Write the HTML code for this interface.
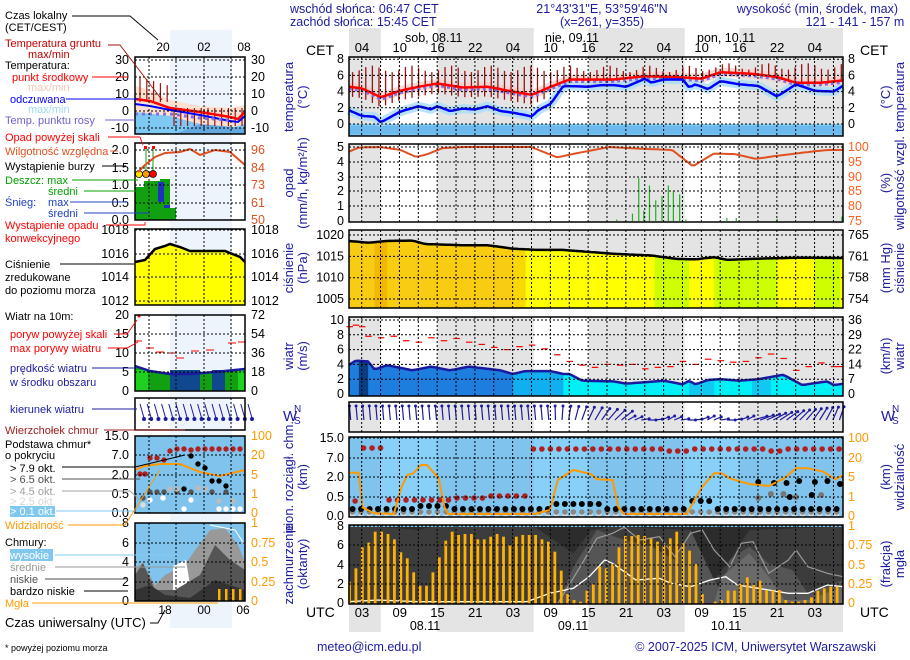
<!DOCTYPE html>
<html><head><meta charset="utf-8">
<style>
html,body{margin:0;padding:0;background:#fff;width:910px;height:660px;overflow:hidden}
svg{display:block;font-family:"Liberation Sans",sans-serif;font-size:12.5px}
.b{fill:#1c1ca0}
</style></head><body>
<svg id="s" width="910" height="660" xmlns="http://www.w3.org/2000/svg">
<g id="g"></g>
<g id="txt">
<text x="290" y="13" class="b">wschód słońca: 06:47 CET</text>
<text x="290" y="26" class="b">zachód słońca: 15:45 CET</text>
<text x="602" y="13" class="b" text-anchor="middle">21°43'31"E, 53°59'46"N</text>
<text x="602" y="26" class="b" text-anchor="middle">(x=261,  y=355)</text>
<text x="898" y="13" class="b" text-anchor="end">wysokość (min, środek, max)</text>
<text x="855" y="26" class="b" text-anchor="middle">121 - 141 - 157 m</text>
<text x="405" y="42">sob, 08.11</text>
<text x="545" y="42">nie, 09.11</text>
<text x="697" y="42">pon, 10.11</text>
<text x="306" y="55" style="font-size:14px">CET</text>
<text x="860" y="55" style="font-size:14px">CET</text>
<text x="306" y="617" style="font-size:14px">UTC</text>
<text x="860" y="617" style="font-size:14px">UTC</text>
<text x="425" y="630" text-anchor="middle">08.11</text>
<text x="573" y="630" text-anchor="middle">09.11</text>
<text x="726" y="630" text-anchor="middle">10.11</text>
<text x="317" y="651" class="b">meteo@icm.edu.pl</text>
<text x="876" y="651" class="b" text-anchor="end">© 2007-2025 ICM, Uniwersytet Warszawski</text>
<text x="5" y="651" style="font-size:9px">* powyżej poziomu morza</text>

<g class="b" style="font-size:13px">
<text transform="translate(293,97) rotate(-90)" text-anchor="middle">temperatura</text>
<text transform="translate(307,97) rotate(-90)" text-anchor="middle">(°C)</text>
<text transform="translate(293,183) rotate(-90)" text-anchor="middle">opad</text>
<text transform="translate(307,183) rotate(-90)" text-anchor="middle">(mm/h, kg/m²/h)</text>
<text transform="translate(293,268) rotate(-90)" text-anchor="middle">ciśnienie</text>
<text transform="translate(307,268) rotate(-90)" text-anchor="middle">(hPa)</text>
<text transform="translate(293,356) rotate(-90)" text-anchor="middle">wiatr</text>
<text transform="translate(307,356) rotate(-90)" text-anchor="middle">(m/s)</text>
<text transform="translate(293,477) rotate(-90)" text-anchor="middle">pion. rozciągł. chm.</text>
<text transform="translate(307,477) rotate(-90)" text-anchor="middle">(km)</text>
<text transform="translate(293,564) rotate(-90)" text-anchor="middle">zachmurzenie</text>
<text transform="translate(307,564) rotate(-90)" text-anchor="middle">(oktanty)</text>
<text transform="translate(890,97) rotate(-90)" text-anchor="middle">(°C)</text>
<text transform="translate(904,97) rotate(-90)" text-anchor="middle">temperatura</text>
<text transform="translate(890,183) rotate(-90)" text-anchor="middle">(%)</text>
<text transform="translate(904,183) rotate(-90)" text-anchor="middle">wilgotność wzgl.</text>
<text transform="translate(890,268) rotate(-90)" text-anchor="middle">(mm Hg)</text>
<text transform="translate(904,268) rotate(-90)" text-anchor="middle">ciśnienie</text>
<text transform="translate(890,356) rotate(-90)" text-anchor="middle">(km/h)</text>
<text transform="translate(904,356) rotate(-90)" text-anchor="middle">wiatr</text>
<text transform="translate(890,477) rotate(-90)" text-anchor="middle">(km)</text>
<text transform="translate(904,477) rotate(-90)" text-anchor="middle">widzialność</text>
<text transform="translate(890,564) rotate(-90)" text-anchor="middle">(frakcja)</text>
<text transform="translate(904,564) rotate(-90)" text-anchor="middle">mgła</text>
</g>
<text x="283" y="421" class="b" style="font-size:15px">W</text><text x="294" y="412" class="b" style="font-size:10px">N</text><text x="294" y="424" class="b" style="font-size:10px">S</text>
<text x="881" y="421" class="b" style="font-size:15px">W</text><text x="892" y="412" class="b" style="font-size:10px">N</text><text x="892" y="424" class="b" style="font-size:10px">S</text>

<g style="font-size:11px">
<text x="5" y="19">Czas lokalny</text><text x="5" y="31">(CET/CEST)</text>
<text x="5" y="47" fill="#c00000">Temperatura gruntu</text><text x="28" y="58" fill="#c00000">max/min</text>
<text x="5" y="69">Temperatura:</text>
<text x="12" y="81" fill="#ff0000">punkt środkowy</text>
<text x="28" y="91" fill="#f0c8b8">max/min</text>
<text x="10" y="103" fill="#0000ff">odczuwana</text>
<text x="28" y="113" fill="#a0d8f0">max/min</text>
<text x="5" y="124" fill="#7060d0">Temp. punktu rosy</text>
<text x="5" y="141" fill="#ff0000">Opad powyżej skali</text>
<text x="5" y="155" fill="#e05020">Wilgotność względna</text>
<text x="5" y="170">Wystąpienie burzy</text>
<text x="5" y="184" fill="#00a000">Deszcz: max</text>
<text x="48" y="195" fill="#00a000">średni</text>
<text x="5" y="206" fill="#2040c0">Śnieg:</text><text x="48" y="206" fill="#2040c0">max</text>
<text x="48" y="217" fill="#2040c0">średni</text>
<text x="5" y="229" fill="#ff0000">Wystąpienie opadu</text>
<text x="5" y="242" fill="#ff0000">konwekcyjnego</text>
<text x="5" y="268">Ciśnienie</text><text x="5" y="281">zredukowane</text><text x="5" y="294">do poziomu morza</text>
<text x="5" y="320">Wiatr na 10m:</text>
<text x="10" y="338" fill="#ff0000">poryw powyżej skali</text>
<text x="10" y="352" fill="#ff0000">max porywy wiatru</text>
<text x="10" y="372" fill="#1c1ca0">prędkość wiatru</text>
<text x="10" y="386" fill="#1c1ca0">w środku obszaru</text>
<text x="10" y="413" fill="#1c1ca0">kierunek wiatru</text>
<text x="5" y="434" fill="#a02020">Wierzchołek chmur</text>
<text x="5" y="448">Podstawa chmur*</text><text x="5" y="459">o pokryciu</text>
<text x="10" y="472">&gt; 7.9 okt.</text>
<text x="10" y="483" fill="#505050">&gt; 6.5 okt.</text>
<text x="10" y="495" fill="#a0a0a0">&gt; 4.5 okt.</text>
<text x="10" y="505" fill="#d8d8d8">&gt; 2.5 okt.</text>
<rect x="10" y="506" width="45" height="11" fill="#80c8f0"/>
<text x="10" y="515" fill="#fff">&gt; 0.1 okt.</text>
<text x="5" y="529" fill="#ff9900">Widzialność</text>
<text x="5" y="546">Chmury:</text>
<rect x="10" y="549" width="43" height="12" fill="#80c8f0"/>
<text x="10" y="559" fill="#fff">wysokie</text>
<text x="10" y="571" fill="#999">średnie</text>
<text x="10" y="583" fill="#505050">niskie</text>
<text x="10" y="595">bardzo niskie</text>
<text x="5" y="607" fill="#ffa000">Mgła</text>
<text x="5" y="627" style="font-size:13px">Czas uniwersalny (UTC)</text>
</g>
<g style="font-size:12px">
<text x="163" y="51" text-anchor="middle">20</text><text x="204" y="51" text-anchor="middle">02</text><text x="244" y="51" text-anchor="middle">08</text>
<text x="165" y="614" text-anchor="middle">18</text><text x="204" y="614" text-anchor="middle">00</text><text x="243" y="614" text-anchor="middle">06</text>
</g>
</g>
</svg>
<script>
const NS='http://www.w3.org/2000/svg';
const G=document.getElementById('g');
function el(n,a,p){const e=document.createElementNS(NS,n);for(const k in a)e.setAttribute(k,a[k]);(p||G).appendChild(e);return e;}
function tx(x,y,s,a,c,fs){const e=el('text',{x:x,y:y,'text-anchor':a||'start',fill:c||'#000'});e.textContent=s;if(fs)e.style.fontSize=fs+'px';return e;}
const X=t=>362+6.29*t, L=349, R=843;
const days=[[3,12],[27.3,36],[51.3,60]];
const P=[[57,136],[144,222],[230,308],[317,396],[402,432],[437,517],[525,604]];
function pl(pts,st){return el('polyline',Object.assign({points:pts.map(p=>p[0].toFixed(1)+','+p[1].toFixed(1)).join(' '),fill:'none'},st));}
function area(pts,yb,fill){const a=pts.map(p=>p[0].toFixed(1)+','+p[1].toFixed(1));a.push(pts[pts.length-1][0]+','+yb);a.push(pts[0][0]+','+yb);return el('polygon',{points:a.join(' '),fill:fill});}
function interp(d,t){if(t<=d[0][0])return d[0][1];for(let i=1;i<d.length;i++){if(t<=d[i][0]){const a=d[i-1],b=d[i];return a[1]+(b[1]-a[1])*(t-a[0])/(b[0]-a[0]);}}return d[d.length-1][1];}
function ser(d,fy){const o=[];for(let t=-2.1;t<=76.6;t+=0.5)o.push([X(t),fy(interp(d,t))]);return o;}

el('rect',{x:170,y:30,width:62,height:598,fill:'#eef4fc'});
[[28,57],[604,632]].forEach(([a,b])=>{el('rect',{x:L,y:a,width:R-L,height:b-a,fill:'#e4e4e4'});days.forEach(d=>el('rect',{x:X(d[0]),y:a,width:X(d[1])-X(d[0]),height:b-a,fill:'#fff'}));});
for(let k=0;k<13;k++){const h=['04','10','16','22'][k%4],u=['03','09','15','21'][k%4];tx(X(6*k),52,h,'middle','#000',13);tx(X(6*k),617,u,'middle','#000',13);}

[0,1,3,4].forEach(i=>{const [a,b]=P[i];el('rect',{x:L,y:a,width:R-L,height:b-a,fill:'#e4e4e4'});days.forEach(d=>el('rect',{x:X(d[0]),y:a,width:X(d[1])-X(d[0]),height:b-a,fill:'#fff'}));});
el('rect',{x:L,y:230,width:R-L,height:78,fill:'#e4e4e4'});
el('rect',{x:L,y:437,width:R-L,height:80,fill:'#80c4ee'});
days.forEach(d=>el('rect',{x:X(d[0]),y:437,width:X(d[1])-X(d[0]),height:80,fill:'#88d0f8'}));
el('rect',{x:L,y:525,width:R-L,height:79,fill:'#2c2c2c'});

const TY=v=>124-8.1*v;
el('rect',{x:L,y:TY(0),width:R-L,height:136-TY(0),fill:'#7ec8f4'});
el('rect',{x:L,y:TY(0)+2,width:R-L,height:8,fill:'#60b0e8',opacity:0.6});
const red=[[-2.1,4.6],[0,4.4],[3,3.3],[6,4.1],[9,4.6],[12,5.0],[16,4.5],[20,4.6],[24,4.0],[27,3.6],[30,4.6],[33,5.5],[40,5.5],[45,5.9],[50,5.8],[54,5.6],[57,6.4],[62,6.2],[66,5.8],[69,5.1],[73,5.1],[76.6,5.4]];
const blu=[[-2.1,1.7],[0,1.0],[2,0.9],[3,0.2],[6,1.5],[9,2.2],[11,1.8],[12,2.2],[14,1.6],[16,1.9],[18,1.8],[20,2.2],[22,1.6],[24,1.4],[26,1.1],[27,0.9],[28,1.7],[30,2.5],[32,4.7],[36,4.6],[38,4.8],[40,4.8],[42,4.6],[45,5.6],[46,5.1],[48,5.5],[51,5.5],[52,4.5],[53,4.9],[55,4.3],[57,5.3],[60,4.9],[63,4.7],[66,3.4],[69,4.9],[72,4.1],[75,4.0],[76.6,4.8]];
pl(ser(red,TY),{stroke:'#f8d0c8','stroke-width':9,opacity:0.8});
pl(ser(blu,TY),{stroke:'#a8dcf8','stroke-width':9,opacity:0.8});
for(let t=-1.5;t<76.5;t+=1.05){const r=interp(red,t);el('line',{x1:X(t),x2:X(t),y1:TY(6.8+0.4*Math.sin(t)+(t>55?0.3:0)),y2:TY(r-(t<30?1.2:0.2)),stroke:'#a01010','stroke-width':1.3});}
pl(ser(red.map(p=>[p[0],p[1]-0.25]),TY),{stroke:'#8070e0','stroke-width':3,'stroke-dasharray':'3,3'});
pl(ser(red,TY),{stroke:'#ff0000','stroke-width':2.5});
pl(ser(blu,TY),{stroke:'#0000ff','stroke-width':2.5});

const HY=h=>147+(100-h)*2.96;
const hum=[[-2.1,98.3],[0,99.8],[4,100],[8,99],[11,96.6],[13,97.5],[16,99.6],[20,100],[33,100],[38,96.5],[42,98],[48,100],[53,99.5],[60,99],[64,93.5],[68,97.8],[72,97.6],[76,96],[80,97],[87,98.5],[90,99]];
const h2=hum.map(p=>[p[0]*0.83-0.5,p[1]]);
pl(ser(h2,HY),{stroke:'#e05020','stroke-width':2});
[[44,2.9],[44.8,0.7],[45.7,2.4],[46.7,1.4],[47.7,1.7],[48.7,2.4],[49.5,2.0],[50.5,1.8],[51.5,0.1],[58,0.2],[59.5,0.2],[66,0.15],[76.3,0.3],[40.5,0.1],[43,0.5]].forEach(b=>el('line',{x1:X(b[0]),x2:X(b[0]),y1:221,y2:221-14.8*b[1],stroke:'#20b020','stroke-width':1.2}));

const PY=p=>235+(1020-p)*4.27;
const pr=[[-2.1,1018.6],[1,1018.2],[4,1018.6],[8,1018.7],[10,1017.9],[16,1017.6],[20,1017.6],[24,1016.8],[28,1016.5],[32,1016.5],[40,1015.6],[46,1015.2],[50,1014.4],[53,1014.3],[56,1014.8],[58,1014.2],[64,1014.5],[70,1014.7],[76.6,1014.6]];
const pp=ser(pr,PY);
area(pp,308,'#ffff00');
el('clipPath',{id:'pc'});const cp=document.getElementById('pc');
{const a=pp.map(p=>p[0]+','+p[1]);a.push(R+',308',L+',308');el('polygon',{points:a.join(' ')},cp);}
[[-2.1,24,'#f8cc10'],[2,4,'#f0b800'],[24,26,'#f8d800'],[46.5,52,'#ccff00'],[56,66,'#ccff00'],[72,76,'#ccff00']].forEach(s=>el('rect',{x:X(s[0]),y:230,width:X(s[1])-X(s[0]),height:78,fill:s[2],'clip-path':'url(#pc)'}));
pl(pp,{stroke:'#000','stroke-width':2.5});

const WY=v=>394-7.4*v;
const ws=[[-2.1,3.9],[-1,4.5],[1,4.4],[2,3.3],[4,3.9],[8,3.2],[11,3.7],[14,3.2],[17,3.7],[22,3.2],[24,2.7],[26,3.1],[30,3.1],[32,2.7],[33,2.7],[35,1.8],[40,1.7],[42,1.4],[48,1.8],[51,1.3],[52,1.8],[53,1.3],[55,1.9],[57,2.0],[60,1.8],[63,2.0],[67,2.6],[70,1.2],[73,1.6],[74,1.7],[75,1.2],[76.6,1.4]];
const wp=ser(ws,WY);
area(wp,396,'#1e7ee0');
el('clipPath',{id:'wc'});{const a=wp.map(p=>p[0]+','+p[1]);a.push(R+',396',L+',396');el('polygon',{points:a.join(' ')},document.getElementById('wc'));}
[[-0.5,1,'#0a3c80'],[1,24,'#1e7ee0'],[24,27,'#10b0f0'],[27,32,'#10b0f0'],[32,76.6,'#00f0f8'],[52,56,'#10c8f0'],[62,65,'#10c8f0']].forEach(s=>el('rect',{x:X(s[0]),y:317,width:X(s[1])-X(s[0]),height:79,fill:s[2],'clip-path':'url(#wc)'}));
pl(wp,{stroke:'#1a1aa0','stroke-width':2.5});
const gu=[[-2,9.1],[-1,9.3],[0,9.1],[1,7.8],[3,7.6],[5,7.8],[7,7.2],[9,7.0],[11,7.6],[13,7.2],[15,7.5],[17,7.0],[19,6.7],[21,6.3],[23,6.0],[25,6.4],[27,6.6],[29,6.1],[31,5.3],[33,4.4],[35,3.9],[37,3.6],[39,4.0],[41,3.9],[43,4.0],[45,3.4],[47,3.6],[49,3.7],[51,4.4],[53,4.0],[55,4.7],[57,4.5],[59,4.3],[61,4.4],[63,4.9],[65,5.4],[67,4.8],[69,3.2],[71,3.7],[73,4.2],[75,3.7],[76,3.7]];
gu.forEach(g=>el('line',{x1:X(g[0])-3,x2:X(g[0])+3.5,y1:WY(g[1]),y2:WY(g[1]),stroke:'#ff0000','stroke-width':1.2}));

for(let t=-1.8;t<76.5;t+=1.05){const x=X(t);let ang;if(t<30)ang=-5;else if(t<42)ang=-5+ (t-30)*5;else if(t<62)ang=75+Math.sin(t)*15;else ang=75-(t-62)*4;
const r=ang*Math.PI/180,len=t>42&&t<62?8:14;const x2=x+len*Math.sin(r),y2=420-len*Math.cos(r);
el('line',{x1:x,y1:420,x2:x2,y2:y2,stroke:'#1c1ca0','stroke-width':1.2});el('circle',{cx:x2,cy:y2,r:1.5,fill:'#1c1ca0'});}

const Z=(zx,zy)=>[300+zx/2.56,420+zy/3];
for(let t=-1.1;t<76.5;t+=1.35){let y=null;if(t>-0.5&&t<3.5)y=448;else if(t>26.5)y=(t>48&&t<52)||(t>64&&t<67)?451:449;if(y)el('circle',{cx:X(t),cy:y,r:2.8,fill:'#b02020'});
 let y2=null;if(t<-0.5)y2=501;else if(t>4&&t<26.5)y2=500-(t>15?2:0)-(t>20?2:0);if(y2)el('circle',{cx:X(t),cy:y2,r:2.8,fill:'#b02020'});}
for(let t=-1.5;t<76.5;t+=1.35){el('circle',{cx:X(t),cy:514,r:2.8,fill:'#ddd'});el('circle',{cx:X(t),cy:512,r:2.8,fill:'#888'});
 let y=509;if(t>9&&t<14)y=506;if(t>30&&t<38)y=504;if(t>52&&t<56)y=501;el('circle',{cx:X(t),cy:y,r:3,fill:'#000'});}
[[63,482],[65.5,483],[67.5,483],[69.5,481],[72,482],[74,481],[76,484],[71.5,495],[68,497]].forEach(p=>el('circle',{cx:X(p[0]),cy:p[1],r:3,fill:'#000'}));
[[63,498],[65,494],[67,494],[69,497],[73,495]].forEach(p=>el('circle',{cx:X(p[0]),cy:p[1],r:3,fill:'#777'}));
const vis=[[125,158],[150,158],[160,262],[190,280],[240,282],[260,200],[275,165],[290,160],[310,135],[325,135],[355,175],[370,262],[380,282],[600,282],[640,270],[660,180],[700,150],[745,162],[760,178],[800,180],[815,262],[830,282],[990,282],[1030,200],[1060,160],[1080,160],[1100,175],[1150,192],[1200,198],[1240,175],[1270,145],[1300,145],[1340,155],[1370,178],[1390,165]].map(p=>Z(p[0],p[1]));
pl(vis,{stroke:'#ff9900','stroke-width':2});

el('polygon',{points:[Z(125,320),Z(200,320),Z(300,330),Z(340,320),Z(600,320),Z(700,400),Z(745,330),Z(800,320),Z(1000,330),Z(1060,480),Z(1100,420),Z(1150,330),Z(1390,320),Z(1390,550),Z(125,550)].map(p=>p.join(',')).join(' '),fill:'#3c3c3c'});
el('polygon',{points:[Z(660,550),Z(700,440),Z(760,330),Z(830,360),Z(900,380),Z(960,420),Z(1000,330),Z(1060,480),Z(1080,520),Z(1100,420),Z(1150,380),Z(1200,430),Z(1260,450),Z(1300,520),Z(1390,480),Z(1390,550)].map(p=>p.join(',')).join(' '),fill:'#555'});
el('polygon',{points:[Z(1060,550),Z(1080,470),Z(1150,400),Z(1200,470),Z(1240,540),Z(1300,540),Z(1390,500),Z(1390,550)].map(p=>p.join(',')).join(' '),fill:'#6a6a6a'});
el('rect',{x:L,y:525,width:R-L,height:2,fill:'#80c4ee'});
pl([Z(660,550),Z(720,435),Z(760,355),Z(800,340),Z(830,322),Z(870,360),Z(920,350),Z(960,410),Z(1000,340),Z(1030,330),Z(1060,390),Z(1100,440),Z(1130,370),Z(1160,365),Z(1200,460),Z(1250,420),Z(1270,390),Z(1300,440),Z(1350,460),Z(1390,470)],{stroke:'#999','stroke-width':1.2});
pl([Z(125,545),Z(200,540),Z(300,545),Z(580,545),Z(640,520),Z(700,505),Z(740,470),Z(780,420),Z(800,430),Z(860,480),Z(920,475),Z(950,490),Z(1000,500),Z(1050,480),Z(1090,470),Z(1120,495),Z(1200,510),Z(1250,520),Z(1300,520),Z(1350,495),Z(1390,500)],{stroke:'#fff','stroke-width':1.3});
const bt=[485,445,382,368,335,335,342,358,397,415,457,497,497,457,412,362,335,345,342,342,358,358,350,342,350,375,350,345,345,345,358,365,395,452,522,540,545,512,493,440,445,432,382,348,348,345,348,355,365,375,355,335,370,392,432,522,550,545,540,512,512,492,472,495,482,510,512,510,540,545,545,540,532,512,505,500,500];
bt.forEach((zy,i)=>{if(zy>=548)return;const x=X(-2+i*1.02);const y=420+zy/3;el('rect',{x:x-1.3,y:y,width:2.8,height:604-y,fill:'#ffb000'});});

const hticks=[[TY(8),TY(6),TY(4),TY(2),TY(0)],[147,162,177,191,206],[PY(1020),PY(1015),PY(1010),PY(1005)],[WY(10),WY(8),WY(6),WY(4),WY(2)],[],[438,458,477,497],[526,545,565,584]];
P.forEach(([a,b],i)=>{for(let k=0;k<=25;k++){const x=X(3*k-0.05);if(x>L&&x<R)el('line',{x1:x,x2:x,y1:a,y2:b,stroke:'#000','stroke-width':1,'stroke-dasharray':'2,2'});}
 hticks[i].forEach(y=>el('line',{x1:L,x2:R,y1:y,y2:y,stroke:'#000','stroke-width':1,'stroke-dasharray':'2,2'}));
 el('rect',{x:L,y:a,width:R-L,height:b-a,fill:'none',stroke:'#000','stroke-width':1.5});});
function labs(vals,ys,x,anc,col){vals.forEach((v,i)=>tx(x,ys[i]+4,v,anc,col||'#000',12.5));}
labs(['8','6','4','2','0'],[TY(8),TY(6),TY(4),TY(2),TY(0)],344,'end');labs(['8','6','4','2','0'],[TY(8),TY(6),TY(4),TY(2),TY(0)],848,'start');
labs(['5','4','3','2','1','0'],[147,162,177,191,206,221],344,'end');labs(['100','95','90','85','80','75'],[147,162,177,191,206,221],848,'start','#ff6020');
labs(['1020','1015','1010','1005'],[PY(1020),PY(1015),PY(1010),PY(1005)],344,'end');labs(['765','761','758','754'],[PY(1020),PY(1015),PY(1010),PY(1005)],848,'start');
labs(['10','8','6','4','2','0'],[WY(10),WY(8),WY(6),WY(4),WY(2),WY(0)],344,'end');labs(['36','29','22','14','7','0'],[WY(10),WY(8),WY(6),WY(4),WY(2),WY(0)],848,'start');
labs(['15.0','7.0','2.0','0.5','0.0'],[438,458,477,497,516],344,'end');labs(['100','20','5','1','0'],[438,458,477,497,516],848,'start','#ff9900');
labs(['8','6','4','2','0'],[526,545,565,584,603],344,'end');labs(['1','0.75','0.5','0.25','0'],[526,545,565,584,603],848,'start','#ff9900');

const LP=[[57,134],[143,220],[229,305],[315,391],[398,430],[436,513],[523,601]];
const LL=135,LR=245;
el('polygon',{points:'135,86 150,90 170,100 200,106 230,108 245,105 245,134 135,134',fill:'#fde0d0'});
el('polygon',{points:'135,112 170,116 200,124 230,128 245,124 245,134 135,134',fill:'#7ec8f4'});
el('polygon',{points:'175,134 200,124 245,128 245,134',fill:'#64a8e0'});
for(let x=140;x<245;x+=6.8)el('line',{x1:x,x2:x,y1:x<170?77+(x-140)*0.3:108,y2:x<170?102:126,stroke:'#a01010','stroke-width':1.2});
pl([[135,99],[150,101],[170,108],[200,112],[230,117],[238,119],[245,112]],{stroke:'#ff0000','stroke-width':2.5});
pl([[135,104],[150,106],[170,110],[200,115],[230,121],[238,122],[245,116]],{stroke:'#0000ff','stroke-width':2});
pl([[135,114],[170,114],[200,118],[230,120]],{stroke:'#8070e0','stroke-width':3,'stroke-dasharray':'3,4'});
el('polygon',{points:'135,187 144,187 144,181 160,181 160,179 170,179 170,220 135,220',fill:'#10a010'});
el('rect',{x:158,y:182,width:6,height:20,fill:'#2030c0'});el('rect',{x:164,y:205,width:6,height:15,fill:'#2030c0'});el('rect',{x:164,y:208,width:12,height:12,fill:'#10a010'});
el('line',{x1:146,x2:146,y1:147,y2:175,stroke:'#10a010'});el('line',{x1:153,x2:153,y1:147,y2:175,stroke:'#10a010'});
[[139,'#ffe000'],[146,'#ff9900'],[153,'#ff0000']].forEach(c=>el('circle',{cx:c[0],cy:174,r:3.5,fill:c[1],stroke:'#000','stroke-width':0.7}));
el('rect',{x:144,y:146,width:3,height:3,fill:'#f00'});el('rect',{x:152,y:146,width:3,height:3,fill:'#f00'});
pl([[138,172],[145,165],[155,157],[165,153],[180,152],[190,149],[200,155],[215,150],[230,152],[245,165]],{stroke:'#e05020','stroke-width':2});
el('polygon',{points:'135,262 145,260 155,249 165,246 170,244 180,247 190,251 200,251 225,251 240,257 245,262 245,305 135,305',fill:'#ffff00'});
pl([[135,262],[145,260],[155,249],[165,246],[170,244],[180,247],[190,251],[200,251],[225,251],[240,257],[245,262]],{stroke:'#000','stroke-width':2.5});
el('polygon',{points:'135,366 150,371 170,374 190,374 215,372 245,369 245,391 135,391',fill:'#10a010'});
[[135,148,'#20d020'],[170,200,'#104890'],[212,225,'#104890'],[238,245,'#20d020']].forEach(s=>el('rect',{x:s[0],y:370,width:s[1]-s[0],height:21,fill:s[2]}));
pl([[135,366],[150,371],[170,374],[190,374],[215,372],[245,369]],{stroke:'#1a1aa0','stroke-width':2.5});
[[138,341],[150,348],[160,352],[172,353],[180,358],[195,351],[210,350],[232,343],[242,342]].forEach(p=>el('line',{x1:p[0]-4,x2:p[0]+4,y1:p[1],y2:p[1],stroke:'#f00'}));
el('circle',{cx:139,cy:316,r:1.5,fill:'#f00'});
for(let x=140;x<250;x+=7.2){el('line',{x1:x,y1:404,x2:x+4,y2:418,stroke:'#1c1ca0'});el('circle',{cx:x+4,cy:419,r:2,fill:'#1c1ca0'});}
el('rect',{x:LL,y:436,width:110,height:77,fill:'#80c4ee'});
[[140,474,'#b02020'],[145,474,'#b02020'],[150,458,'#b02020'],[157,458,'#b02020'],[164,460,'#b02020'],[170,451,'#b02020'],[177,449,'#b02020'],[184,449,'#b02020'],[191,450,'#b02020'],[198,449,'#b02020'],[205,449,'#b02020'],[212,449,'#b02020'],[219,449,'#b02020'],[226,449,'#b02020'],[233,449,'#b02020'],[240,449,'#b02020'],[191,456,'#000'],[198,464,'#000'],[205,468,'#000'],[212,481,'#000'],[219,481,'#000'],[226,486,'#000'],[184,489,'#000'],[150,492,'#555'],[157,492,'#555'],[164,492,'#555'],[177,492,'#555'],[191,492,'#555'],[212,492,'#555'],[226,492,'#555'],[170,489,'#bbb'],[177,489,'#bbb'],[198,488,'#bbb'],[205,489,'#bbb'],[219,501,'#bbb'],[233,501,'#bbb'],[143,505,'#ddd'],[150,500,'#fff'],[163,498,'#fff'],[191,500,'#fff'],[184,509,'#fff'],[219,509,'#fff'],[226,509,'#fff'],[233,509,'#fff'],[240,509,'#fff'],[143,498,'#555']].forEach(d=>el('circle',{cx:d[0],cy:d[1],r:2.7,fill:d[2]}));
pl([[135,470],[145,466],[160,464],[180,464],[200,472],[220,476],[245,470]],{stroke:'#ff9900','stroke-width':2});
el('rect',{x:LL,y:523,width:110,height:78,fill:'#80c4ee'});
el('polygon',{points:'135,568 143,563 155,585 165,575 175,570 185,565 195,550 203,540 210,530 225,528 238,545 245,562 245,601 135,601',fill:'#999'});
el('polygon',{points:'173,566 186,560 190,585 173,595',fill:'#fff'});
el('polygon',{points:'135,575 143,563 155,590 175,590 200,575 215,545 230,560 245,570 245,601 135,601',fill:'#555'});
el('polygon',{points:'135,590 150,585 165,595 190,598 215,580 245,590 245,601 135,601',fill:'#333'});
pl([[210,525],[235,530],[245,545]],{stroke:'#fff'});
[218,225,232,239].forEach(x=>el('rect',{x:x,y:589,width:2.5,height:12,fill:'#ffb000'}));
LP.forEach(([a,b])=>{[149,176,204,231].forEach(x=>el('line',{x1:x,x2:x,y1:a,y2:b,stroke:'#000','stroke-dasharray':'2,2'}));
 el('rect',{x:LL,y:a,width:110,height:b-a,fill:'none',stroke:'#000','stroke-width':1.5});});
const LT=[[[30,20,10,0,-10],[60,77,94,111,128]],[[ '2.0','1.5','1.0','0.5','0.0'],[150,168,185,203,220]],[[1018,1016,1014,1012],[230,254,277,301]],[[20,15,10,5,0],[315,334,353,372,391]],null,[['15.0','7.0','2.0','0.5','0.0'],[436,455,475,494,513]],[[8,6,4,2,0],[523,543,562,582,601]]];
const RT=[[30,20,10,0,-10],[96,84,73,61,50],[1018,1016,1014,1012],[72,54,36,18,0],null,[100,20,5,1,0],[1,0.75,0.5,0.25,0]];
LT.forEach((d,i)=>{if(!d)return;d[1].forEach((y,k)=>{el('line',{x1:LL,x2:LR,y1:y,y2:y,stroke:'#000','stroke-dasharray':'2,2'});
 tx(129,y+4,String(d[0][k]),'end','#000',12.5);const c=(i===1)?'#e05020':(i>=5?'#ff9900':'#000');tx(251,y+4,String(RT[i][k]),'start',c,12.5);});});
const LN=[
[[[92,77],[127,77]],'#ff0000'],
[[[66,99],[138,99]],'#0000ff'],
[[[105,120],[135,120]],'#7060d0'],
[[[108,137],[140,137],[143,145]],'#ff0000'],
[[[110,151],[118,151]],'#e05020'],
[[[102,166],[126,166]],'#000'],
[[[72,180],[138,180]],'#00a000'],
[[[84,191],[140,191]],'#00a000'],
[[[70,202],[127,202]],'#2040c0'],
[[[84,213],[150,213]],'#2040c0'],
[[[106,225],[145,225],[145,222]],'#ff0000'],
[[[60,264],[134,264]],'#000'],
[[[114,334],[127,334],[137,320]],'#ff0000'],
[[[108,348],[127,348],[138,342]],'#ff0000'],
[[[92,368],[135,368]],'#1c1ca0'],
[[[92,409],[137,409]],'#1c1ca0'],
[[[104,430],[185,430]],'#a02020'],
[[[62,467],[135,467],[185,455]],'#000'],
[[[62,479],[140,479]],'#505050'],
[[[62,491],[130,491],[140,500]],'#a0a0a0'],
[[[56,511],[160,511]],'#80c8f0'],
[[[68,525],[125,525],[160,470]],'#ff9900'],
[[[55,555],[180,555]],'#80c8f0'],
[[[55,567],[185,567]],'#999'],
[[[45,579],[128,579]],'#505050'],
[[[84,591],[128,591]],'#000'],
[[[32,603],[218,603]],'#ffa000'],
[[[150,623],[158,623],[165,610]],'#000'],
[[[72,16],[130,16],[158,40]],'#000'],
[[[108,45],[120,45],[162,100]],'#a01010']];
LN.forEach(l=>pl(l[0],{stroke:l[1],'stroke-width':0.9}));
</script>
</body></html>
